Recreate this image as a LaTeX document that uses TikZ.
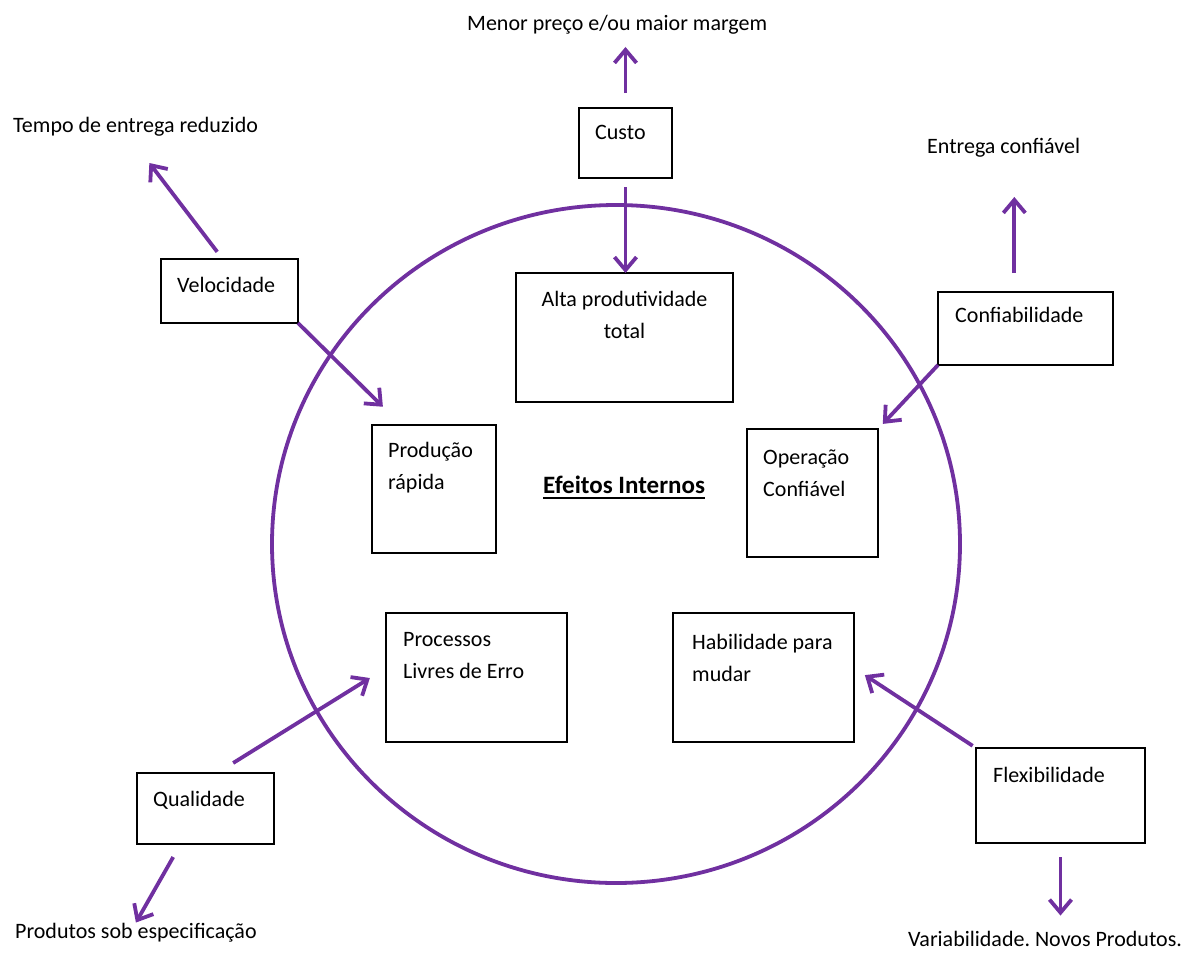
\documentclass[tikz,border=0pt]{standalone}
\usepackage{fontspec}
\setmainfont{Carlito}
\usepackage{xcolor}
\usetikzlibrary{arrows.meta,calc}
\definecolor{roxo}{HTML}{7030A0}
\frenchspacing

\begin{document}
\begin{tikzpicture}[x=1pt, y=-1pt,
    font=\fontsize{22}{32}\selectfont,
    caixa/.style={draw, fill=white, line width=1.6pt, anchor=north west, inner sep=0pt, outer sep=0pt},
    texto/.style={anchor=base west, inner sep=0pt, align=flush left, text width=#1},
    texto/.default=170pt,
    rotulo/.style={anchor=base west, inner sep=0pt},
    seta/.style={draw=roxo, line width=3.8pt, -{Straight Barb[length=13pt,width=22pt]}}]
    \useasboundingbox (0,0) rectangle (1195,954);

    \draw [draw=roxo, line width=3.8pt] (616,544) ellipse [x radius=344, y radius=339];

    \node [caixa, minimum width=93pt, minimum height=70pt] (custo) at (579,108) {};
    \node [caixa, minimum width=217pt, minimum height=129pt] (alta) at (516,273) {};
    \node [caixa, minimum width=137pt, minimum height=64pt] (velo) at (161,259) {};
    \node [caixa, minimum width=124pt, minimum height=128pt] (prod) at (372,425) {};
    \node [caixa, minimum width=131pt, minimum height=128pt] (oper) at (747,429) {};
    \node [caixa, minimum width=175pt, minimum height=73pt] (conf) at (938,292) {};
    \node [caixa, minimum width=181pt, minimum height=129pt] (proc) at (386,613) {};
    \node [caixa, minimum width=181pt, minimum height=129pt] (habil) at (673,613) {};
    \node [caixa, minimum width=137pt, minimum height=71pt] (qual) at (137,773) {};
    \node [caixa, minimum width=169pt, minimum height=95pt] (flex) at (976,748) {};

    \node [texto] (custo-t) at (595,139) {Custo};
    \node [texto=200pt, anchor=base, align=flush center] (alta-t) at (624.5,306) {Alta produtividade\\total};
    \node [texto] (velo-t) at (177,292) {Velocidade};
    \node [texto] (prod-t) at (388,457) {Produção\\rápida};
    \node [texto] (oper-t) at (763,464) {Operação\\Confiável};
    \node [texto] (conf-t) at (955,322) {Confiabilidade};
    \node [texto] (proc-t) at (403,646) {Processos\\Livres de Erro};
    \node [texto] (habil-t) at (692,649) {Habilidade para\\mudar};
    \node [texto] (qual-t) at (153,806) {Qualidade};
    \node [texto] (flex-t) at (993,782) {Flexibilidade};

    \node [rotulo] (menor) at (467,30) {Menor preço e/ou maior margem};
    \node [rotulo] (tempo) at (13,132) {Tempo de entrega reduzido};
    \node [rotulo] (entrega) at (927,153) {Entrega confiável};
    \node [rotulo] (produtos) at (15,938) {Produtos sob especificação};
    \node [rotulo] (variab) at (908,946) {Variabilidade. Novos Produtos.};

    \node [rotulo, font=\fontsize{25}{30}\selectfont\bfseries] (efeitos) at (543,493) {Efeitos Internos};
    \draw [line width=1.5pt] ([yshift=-5pt]efeitos.base west) -- ([yshift=-5pt]efeitos.base east);

    \draw [seta, shorten <=15pt, shorten >=13pt] (custo.north) -- (custo.north |- menor.south);
    \draw [seta, shorten <=9pt] (custo.south) -- (custo.south |- alta.north);
    \draw [seta, shorten <=9pt, shorten >=34pt] (velo.102) -- (tempo.235);
    \draw [seta, shorten >=26pt] (velo.south east) -- (prod.117);
    \draw [seta, shorten <=19pt, shorten >=40pt] (conf.107) -- (conf.107 |- entrega.south);
    \draw [seta, shorten >=7pt] (conf.south west) -- (oper.north east);
    \draw [seta, shorten <=19pt, shorten >=19pt] (qual.72) -- (proc.174);
    \draw [seta, shorten <=15pt] (qual.235) -- (produtos.north);
    \draw [seta, shorten <=4pt, shorten >=13pt] (flex.north west) -- (habil.6);
    \draw [seta, shorten <=14pt, shorten >=15pt] (flex.south) -- (flex.south |- variab.north);
\end{tikzpicture}
\end{document}
